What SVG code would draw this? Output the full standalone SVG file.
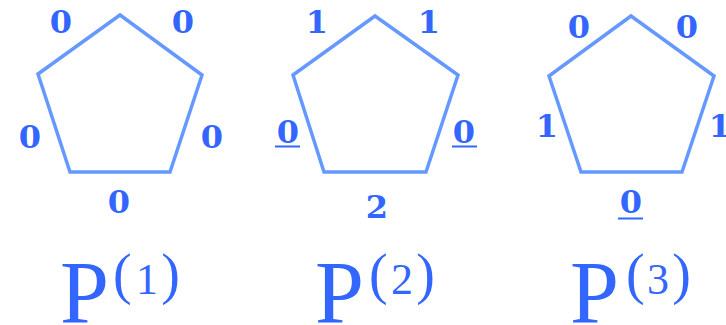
<svg xmlns="http://www.w3.org/2000/svg" width="726" height="325" viewBox="0 0 726 325">
<style>
.pg{fill:none;stroke:#6699ff;stroke-width:3.5;stroke-linejoin:miter}
.n{font-family:"DejaVu Serif",serif;font-weight:bold;font-size:32px;fill:#3366ff;text-anchor:middle}
.ul{stroke:#3366ff;stroke-width:2}
.P{font-family:"Liberation Serif",serif;font-size:88px;fill:#3366ff}
.par{font-family:"Liberation Serif",serif;font-size:56px;fill:#3366ff}
.sd{font-family:"Liberation Serif",serif;font-size:44px;fill:#3366ff;text-anchor:middle}
</style>
<rect width="726" height="325" fill="#ffffff"/>
<g id="p1">
<polygon class="pg" points="120,15 202,75 170,172 70,172 38,74"/>
<text class="n" x="61" y="33">0</text>
<text class="n" x="183" y="33">0</text>
<text class="n" x="30" y="148">0</text>
<text class="n" x="212" y="148">0</text>
<text class="n" x="119" y="213">0</text>
</g>
<g id="p2">
<polygon class="pg" points="375,16 458,75 426,172 324,172 293,75"/>
<text class="n" x="317" y="33">1</text>
<text class="n" x="429" y="33">1</text>
<text class="n" x="288" y="143">0</text>
<line class="ul" x1="275" y1="146.5" x2="300" y2="146.5"/>
<text class="n" x="464" y="143">0</text>
<line class="ul" x1="452" y1="146.5" x2="477" y2="146.5"/>
<text class="n" x="377" y="218">2</text>
</g>
<g id="p3">
<polygon class="pg" points="631,16 714,76 682,172 581,172 549,76"/>
<text class="n" x="579" y="38">0</text>
<text class="n" x="687" y="38">0</text>
<text class="n" x="547" y="137">1</text>
<text class="n" x="720" y="137">1</text>
<text class="n" x="631" y="213">0</text>
<line class="ul" x1="618" y1="218.5" x2="643" y2="218.5"/>
</g>
<g id="label1">
<text class="P" x="60" y="322">P</text>
<text class="par" x="113" y="293">(</text>
<text class="sd" x="147" y="294">1</text>
<text class="par" x="180" y="293" text-anchor="end">)</text>
</g>
<g id="label2">
<text class="P" x="315" y="322">P</text>
<text class="par" x="369" y="293">(</text>
<text class="sd" x="402" y="294">2</text>
<text class="par" x="435" y="293" text-anchor="end">)</text>
</g>
<g id="label3">
<text class="P" x="570" y="322">P</text>
<text class="par" x="626" y="293">(</text>
<text class="sd" x="658" y="294">3</text>
<text class="par" x="691" y="293" text-anchor="end">)</text>
</g>
</svg>
